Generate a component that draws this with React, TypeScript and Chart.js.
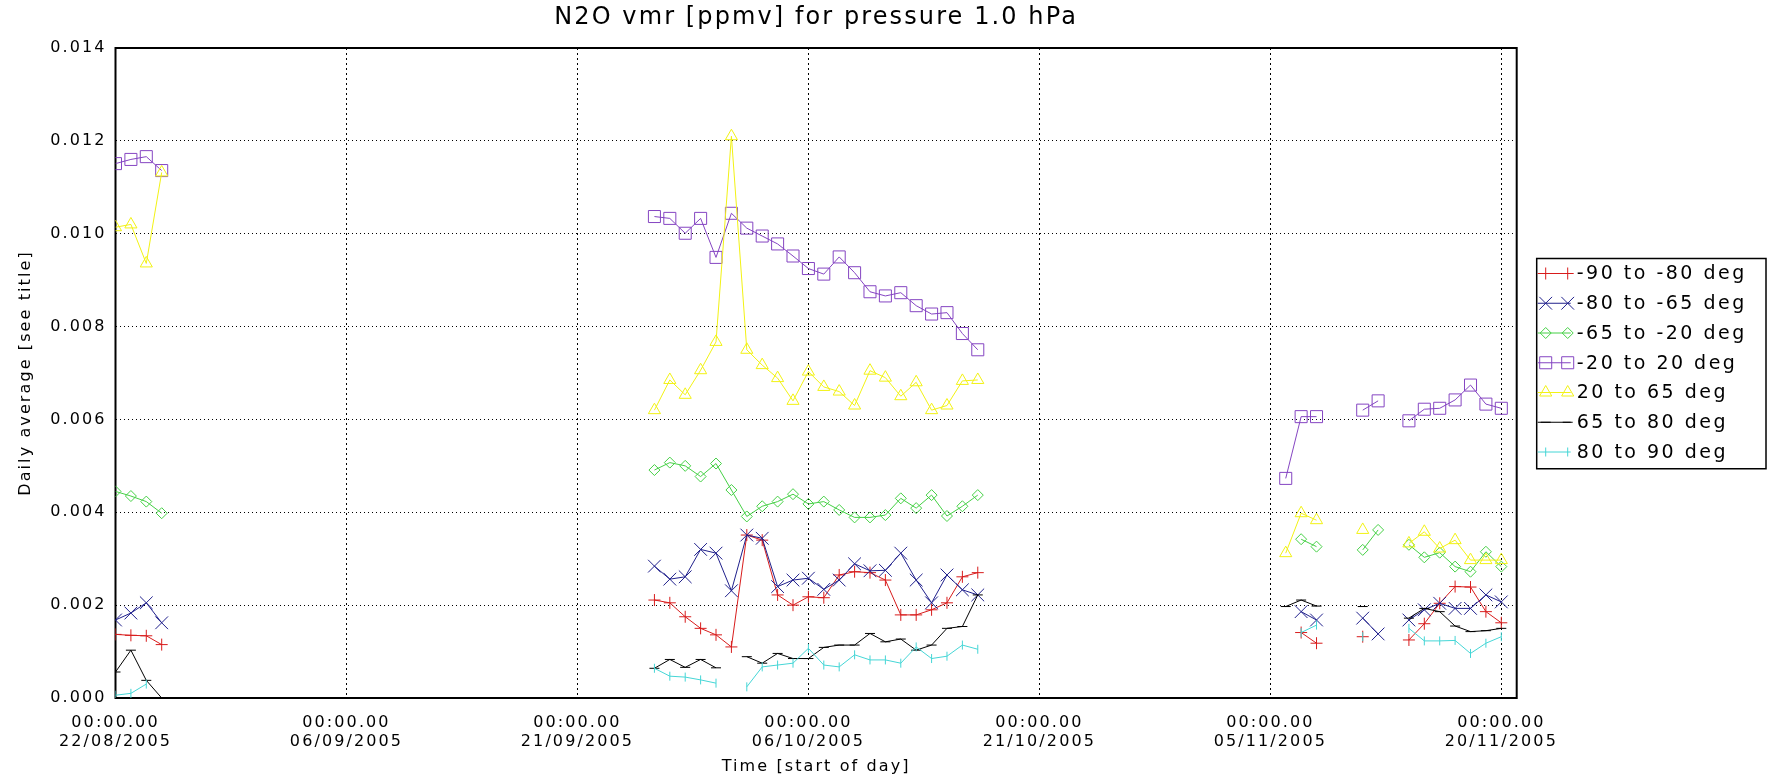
import React, { useEffect, useRef } from 'react';
import { Chart, registerables } from 'chart.js';

Chart.register(...registerables);

const N = null;

// day offsets from 22/08/2005
const days = [
  0, 1, 2, 3,
  35, 36, 37, 38, 39, 40, 41, 42, 43, 44, 45, 46, 47, 48, 49, 50, 51, 52, 53, 54, 55, 56,
  76, 77, 78, 79, 80, 81, 82, 83, 84, 85, 86, 87, 88, 89, 90,
];

const seriesLabels = [
  '-90 to -80 deg',
  '-80 to -65 deg',
  '-65 to -20 deg',
  '-20 to 20 deg',
  '20 to 65 deg',
  '65 to 80 deg',
  '80 to 90 deg',
];

const s90to80 = [
  0.00137, 0.00135, 0.00134, 0.00115,
  0.00211, 0.00205, 0.00175, 0.0015, 0.00136, 0.0011, 0.00351, 0.0034, 0.00222, 0.002, 0.00218, 0.00216, 0.00265, 0.00272, 0.0027, 0.00254, 0.00179, 0.00179, 0.0019, 0.00205, 0.00261, 0.0027,
  N, 0.00141, 0.00118, N, N, 0.00132, N, N, 0.00125, 0.0016, 0.00204, 0.0024, 0.00239, 0.00186, 0.00162,
];
const s80to65 = [
  0.00168, 0.00183, 0.00205, 0.00162,
  0.00284, 0.00256, 0.00261, 0.0032, 0.00312, 0.00231, 0.00351, 0.00344, 0.0024, 0.00254, 0.00258, 0.00234, 0.00254, 0.00289, 0.00274, 0.00275, 0.00312, 0.00254, 0.00205, 0.00265, 0.00233, 0.00222,
  N, 0.00186, 0.00168, N, N, 0.00172, 0.00138, N, 0.00168, 0.0019, 0.00204, 0.00193, 0.00193, 0.00222, 0.00207,
];
const s65to20 = [
  0.00445, 0.00435, 0.00423, 0.00398,
  0.00491, 0.00507, 0.005, 0.00477, 0.00505, 0.00448, 0.00391, 0.00413, 0.00423, 0.00439, 0.00418, 0.00423, 0.00405, 0.00389, 0.00389, 0.00394, 0.0043, 0.00409, 0.00437, 0.00392, 0.00413, 0.00437,
  N, 0.00342, 0.00326, N, N, 0.00319, 0.00362, N, 0.0033, 0.00303, 0.00313, 0.00283, 0.00272, 0.00315, 0.00283,
];
const s20to20 = [
  0.01151, 0.0116, 0.01166, 0.01136,
  0.01037, 0.01033, 0.01001, 0.01033, 0.00949, 0.01044, 0.01012, 0.00995, 0.00978, 0.00952, 0.00925, 0.00913, 0.0095, 0.00916, 0.00875, 0.00866, 0.00873, 0.00845, 0.00827, 0.0083, 0.00785, 0.0075,
  0.00473, 0.00606, 0.00606, N, N, 0.0062, 0.0064, N, 0.00597, 0.00622, 0.00624, 0.00642, 0.00674, 0.00633, 0.00624,
];
const s20to65 = [
  0.01014, 0.0102, 0.00936, 0.01132,
  0.0062, 0.00685, 0.00653, 0.00706, 0.00767, 0.0121, 0.0075, 0.00717, 0.00689, 0.0064, 0.00703, 0.0067, 0.0066, 0.0063, 0.00705, 0.0069, 0.0065, 0.0068, 0.0062, 0.0063, 0.00683, 0.00685,
  0.00312, 0.00398, 0.00383, N, N, 0.00362, N, N, 0.00333, 0.00358, 0.00322, 0.0034, 0.00297, 0.00297, 0.00297,
];
const s65to80 = [
  0.00056, 0.00103, 0.00038, 0.0,
  0.00064, 0.00083, 0.00066, 0.00083, 0.00065, N, 0.00089, 0.00075, 0.00096, 0.00085, 0.00085, 0.00109, 0.00114, 0.00114, 0.00139, 0.00121, 0.00127, 0.00103, 0.00114, 0.0015, 0.00154, 0.00222,
  0.00197, 0.00211, 0.00198, N, N, 0.00197, N, N, 0.00172, 0.00193, 0.00186, 0.00155, 0.00143, 0.00145, 0.0015,
];
const s80to90 = [
  0.00006, 0.0001, 0.0003, N,
  0.00064, 0.00047, 0.00045, 0.00039, 0.00032, N, 0.00024, 0.00067, 0.00071, 0.00075, 0.00107, 0.00071, 0.00067, 0.00093, 0.00082, 0.00082, 0.00075, 0.0011, 0.00085, 0.0009, 0.00114, 0.00105,
  N, 0.00141, 0.00157, N, N, 0.00132, N, N, 0.0015, 0.00123, 0.00123, 0.00124, 0.00096, 0.00118, 0.00132,
];

const seriesValues = [s90to80, s80to65, s65to20, s20to20, s20to65, s65to80, s80to90];

const xTickValues = [0, 15, 30, 45, 60, 75, 90];
const xTickTimes = ['00:00.00', '00:00.00', '00:00.00', '00:00.00', '00:00.00', '00:00.00', '00:00.00'];
const xTickDates = ['22/08/2005', '06/09/2005', '21/09/2005', '06/10/2005', '21/10/2005', '05/11/2005', '20/11/2005'];

const titleText = 'N2O vmr [ppmv] for pressure 1.0 hPa';
const yTitle = 'Daily average [see title]';
const xTitle = 'Time [start of day]';

const colors = ['#d81c1c', '#20208c', '#45d045', '#8545c2', '#f2f214', '#000000', '#45d6d6'];
const styles = ['cross', 'crossRot', 'rectRot', 'rect', 'triangle', 'line', 'line'];
const radii = [6, 9, 5.5, 8.5, 7, 5, 4.5];
const rotations = [0, 0, 0, 0, 0, 0, 90];

const FONT = "'DejaVu Sans', sans-serif";

function drawMarker(ctx: CanvasRenderingContext2D, style: string, r: number, rot: number, x: number, y: number) {
  ctx.beginPath();
  if (style === 'cross') {
    ctx.moveTo(x - r, y); ctx.lineTo(x + r, y);
    ctx.moveTo(x, y - r); ctx.lineTo(x, y + r);
  } else if (style === 'crossRot') {
    const d = r * Math.SQRT1_2;
    ctx.moveTo(x - d, y - d); ctx.lineTo(x + d, y + d);
    ctx.moveTo(x - d, y + d); ctx.lineTo(x + d, y - d);
  } else if (style === 'rectRot') {
    ctx.moveTo(x - r, y); ctx.lineTo(x, y - r); ctx.lineTo(x + r, y); ctx.lineTo(x, y + r); ctx.closePath();
  } else if (style === 'rect') {
    const s = r * Math.SQRT1_2;
    ctx.rect(x - s, y - s, 2 * s, 2 * s);
  } else if (style === 'triangle') {
    for (let k = 0; k < 3; k++) {
      const a = (k * 2 * Math.PI) / 3;
      const px = x + Math.sin(a) * r;
      const py = y - Math.cos(a) * r;
      if (k === 0) ctx.moveTo(px, py); else ctx.lineTo(px, py);
    }
    ctx.closePath();
  } else if (style === 'line') {
    if (rot === 90) { ctx.moveTo(x, y - r); ctx.lineTo(x, y + r); }
    else { ctx.moveTo(x - r, y); ctx.lineTo(x + r, y); }
  }
  ctx.stroke();
}

const spacingPlugin = {
  id: 'spacing',
  beforeLayout(chart: any) { chart.ctx.letterSpacing = '2.1px'; },
  beforeDraw(chart: any) { chart.ctx.letterSpacing = '2.1px'; },
};

const framePlugin = {
  id: 'frame',
  beforeDatasetsDraw(chart: any) {
    const { ctx, chartArea: a } = chart;
    ctx.save();
    ctx.strokeStyle = '#000';
    ctx.lineWidth = 2;
    ctx.setLineDash([]);
    ctx.strokeRect(a.left, a.top, a.right - a.left, a.bottom - a.top);
    ctx.restore();
  },
};

const legendPlugin = {
  id: 'idlLegend',
  afterDraw(chart: any) {
    const ctx: CanvasRenderingContext2D = chart.ctx;
    const a = chart.chartArea;
    const boxL = a.right + 20;
    const boxT = 258.5;
    const rowH = 29.75;
    const n = chart.data.datasets.length;
    ctx.save();
    ctx.setLineDash([]);
    ctx.strokeStyle = '#000';
    ctx.lineWidth = 1.5;
    ctx.strokeRect(boxL, boxT, 1766 - boxL, rowH * n + 2);
    ctx.font = `19px ${FONT}`;
    ctx.textBaseline = 'middle';
    ctx.textAlign = 'left';
    (ctx as any).letterSpacing = '2.5px';
    chart.data.datasets.forEach((ds: any, i: number) => {
      const y = boxT + 15 + i * rowH;
      ctx.strokeStyle = ds.borderColor;
      ctx.lineWidth = 1;
      ctx.beginPath();
      ctx.moveTo(boxL + 1, y);
      ctx.lineTo(boxL + 34, y);
      ctx.stroke();
      drawMarker(ctx, ds.pointStyle, ds.pointRadius, ds.pointRotation || 0, boxL + 9, y);
      drawMarker(ctx, ds.pointStyle, ds.pointRadius, ds.pointRotation || 0, boxL + 31, y);
      ctx.fillStyle = '#000';
      ctx.fillText(ds.label, boxL + 40, y + 1);
    });
    ctx.restore();
  },
};

export default function App() {
  const ref = useRef<HTMLCanvasElement>(null);
  useEffect(() => {
    document.body.style.margin = '0';
    const canvas = ref.current!;
    const datasets = seriesLabels.map((label, i) => ({
      label,
      data: days
        .map((d, j) => ({ x: d, y: seriesValues[i][j] }))
        .filter((p) => p.y !== null),
      borderColor: colors[i],
      backgroundColor: 'rgba(0,0,0,0)',
      borderWidth: 1,
      pointStyle: styles[i],
      pointRadius: radii[i],
      pointRotation: rotations[i],
      pointBorderColor: colors[i],
      pointBackgroundColor: 'rgba(0,0,0,0)',
      pointBorderWidth: 1,
      pointHoverRadius: radii[i],
      tension: 0,
      spanGaps: 1.5,
      order: 7 - i,
    }));
    const chart = new Chart(canvas, {
      type: 'line',
      data: { datasets },
      plugins: [spacingPlugin, framePlugin, legendPlugin],
      options: {
        responsive: false,
        animation: false,
        events: [],
        layout: { padding: { left: 0, right: 252.3, top: 0, bottom: 0 } },
        color: '#000',
        plugins: {
          legend: { display: false },
          tooltip: { enabled: false },
          title: {
            display: true,
            text: titleText,
            color: '#000',
            fullSize: false,
            font: { family: FONT, size: 24, weight: 'normal' },
            padding: { top: 3.6, bottom: 15.6 },
          },
        },
        scales: {
          x: {
            type: 'linear',
            min: 0,
            max: 91,
            afterFit: (s: any) => { s.height = 86; },
            afterBuildTicks: (s: any) => { s.ticks = xTickValues.map((v) => ({ value: v })); },
            ticks: {
              autoSkip: false,
              maxRotation: 0,
              includeBounds: false,
              padding: 15.4,
              color: '#000',
              font: { family: FONT, size: 16 },
              callback: (v: any) => {
                const i = xTickValues.indexOf(Number(v));
                return i >= 0 ? [xTickTimes[i], xTickDates[i]] : '';
              },
            },
            grid: { color: '#000', lineWidth: 1, drawTicks: false },
            border: { display: false, dash: [2, 3] },
            title: {
              display: true,
              text: xTitle,
              color: '#000',
              font: { family: FONT, size: 16 },
              padding: { top: 0, bottom: 7.4 },
            },
          },
          y: {
            type: 'linear',
            min: 0,
            max: 0.014,
            afterFit: (s: any) => { s.width = 115.5; },
            ticks: {
              stepSize: 0.002,
              padding: 9,
              color: '#000',
              font: { family: FONT, size: 16 },
              callback: (v: any) => Number(v).toFixed(3),
            },
            grid: { color: '#000', lineWidth: 1, drawTicks: false },
            border: { display: false, dash: [1, 3] },
            title: {
              display: true,
              text: yTitle,
              color: '#000',
              font: { family: FONT, size: 16 },
              padding: { top: 16, bottom: 0 },
            },
          },
        },
      },
    } as any);
    return () => chart.destroy();
  }, []);
  return (
    <div style={{ position: 'absolute', left: 0, top: 0, width: 1769, height: 784, background: '#fff' }}>
      <canvas ref={ref} width={1769} height={784} />
    </div>
  );
}
